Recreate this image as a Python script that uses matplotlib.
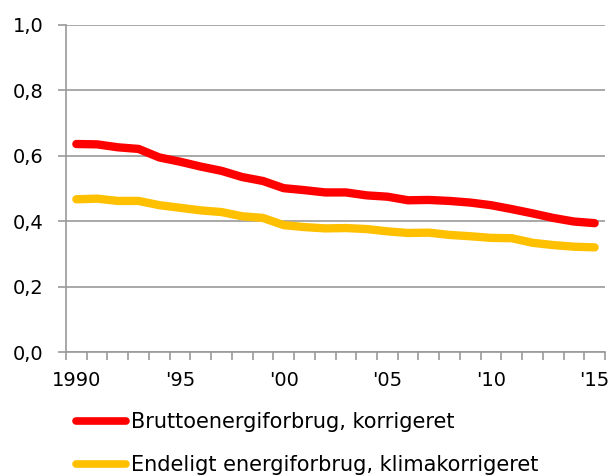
import matplotlib
matplotlib.use("Agg")
import matplotlib.pyplot as plt
from matplotlib.ticker import FixedLocator, FuncFormatter

years = list(range(1990, 2016))
brutto = [0.636, 0.635, 0.626, 0.621, 0.595, 0.582, 0.567, 0.554, 0.535, 0.523,
          0.501, 0.495, 0.488, 0.488, 0.479, 0.475, 0.464, 0.465, 0.462, 0.457,
          0.449, 0.437, 0.424, 0.410, 0.399, 0.394]
endeligt = [0.467, 0.469, 0.462, 0.462, 0.449, 0.441, 0.433, 0.428, 0.415, 0.410,
            0.388, 0.382, 0.378, 0.379, 0.376, 0.369, 0.364, 0.365, 0.358, 0.354,
            0.349, 0.348, 0.334, 0.327, 0.322, 0.320]
series_labels = ["Bruttoenergiforbrug, korrigeret", "Endeligt energiforbrug, klimakorrigeret"]
xtick_labels = ["1990", "'95", "'00", "'05", "'10", "'15"]
ytick_values = [0.0, 0.2, 0.4, 0.6, 0.8, 1.0]

plt.rcParams['font.family'] = ['DejaVu Sans']
fig = plt.figure(figsize=(6.13, 4.75), dpi=100)
ax = fig.add_axes([66/613, 1-352/475, (605-66)/613, (352-25)/475])

x = list(range(len(years)))
l1, = ax.plot(x, brutto, color="#FF0000", lw=6, solid_capstyle="round", solid_joinstyle="round")
l2, = ax.plot(x, endeligt, color="#FFC000", lw=6, solid_capstyle="round", solid_joinstyle="round")

ax.set_xlim(-0.5, len(years) - 0.5)
ax.set_ylim(0, 1.0)

grid_c = "#9a9a9a"
ax.set_yticks(ytick_values)
ax.yaxis.set_major_formatter(FuncFormatter(lambda v, p: f"{v:.1f}".replace(".", ",")))
ax.yaxis.grid(True, color=grid_c, lw=1.2)
ax.set_axisbelow(True)

ax.set_xticks([i for i, y in enumerate(years) if (y - 1990) % 5 == 0])
ax.set_xticklabels(xtick_labels)
ax.xaxis.set_minor_locator(FixedLocator([i - 0.5 for i in range(len(years) + 1)]))
ax.tick_params(axis='x', which='major', length=0, pad=14, labelsize=14, colors='black')
ax.tick_params(axis='x', which='minor', length=6, width=1.2, color=grid_c)
ax.tick_params(axis='y', length=6, width=1.2, color=grid_c, pad=10, labelsize=14)

for s in ["top", "right"]:
    ax.spines[s].set_visible(False)
for s in ["left", "bottom"]:
    ax.spines[s].set_color(grid_c)
    ax.spines[s].set_linewidth(1.2)

leg = fig.legend([l1, l2], series_labels, loc="upper left",
                 bbox_to_anchor=(76/613, 1-412/475), frameon=False, fontsize=15,
                 handlelength=2.4, handletextpad=0.25, labelspacing=1.1,
                 borderpad=0, borderaxespad=0)
for h in leg.get_lines():
    h.set_linewidth(5.5)
    h.set_solid_capstyle("round")

fig.savefig("out.png", dpi=100)
